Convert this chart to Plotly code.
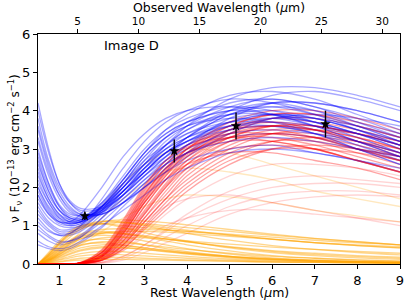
import plotly.graph_objects as go

# ---------------- data ----------------
wavelengths = [0.5, 0.75, 1.0, 1.25, 1.5, 2.0, 2.5, 3.0, 3.5, 4.0, 5.0, 6.0, 7.0, 8.0, 9.0]
redshift_factor = 3.495  # observed / rest

blue_curves = [
    [2.2, 1.6, 1.2, 1.05, 1.1, 1.5, 2.1, 2.6, 3.0, 3.3, 3.7, 3.8, 3.6, 3.3, 2.9],
    [3.0, 2.1, 1.5, 1.2, 1.15, 1.4, 1.9, 2.4, 2.9, 3.2, 3.7, 3.9, 3.8, 3.5, 3.2],
    [1.5, 1.1, 0.9, 0.9, 1.0, 1.5, 2.1, 2.7, 3.1, 3.4, 3.7, 3.7, 3.5, 3.1, 2.7],
    [4.2, 3.0, 2.1, 1.6, 1.35, 1.3, 1.6, 2.1, 2.6, 3.1, 3.8, 4.2, 4.2, 4.0, 3.7],
    [0.8, 0.6, 0.5, 0.55, 0.7, 1.1, 1.6, 2.1, 2.6, 2.9, 3.3, 3.4, 3.3, 3.0, 2.7],
    [2.6, 1.9, 1.4, 1.15, 1.1, 1.35, 1.8, 2.4, 2.9, 3.3, 3.9, 4.1, 4.0, 3.7, 3.4],
    [1.9, 1.4, 1.1, 1.0, 1.05, 1.45, 2.0, 2.6, 3.1, 3.5, 3.9, 4.0, 3.8, 3.5, 3.1],
    [3.5, 2.5, 1.8, 1.4, 1.25, 1.3, 1.6, 2.0, 2.4, 2.8, 3.4, 3.8, 3.9, 3.8, 3.6],
    [1.2, 0.9, 0.75, 0.75, 0.85, 1.3, 1.9, 2.5, 3.0, 3.3, 3.6, 3.6, 3.4, 3.0, 2.6],
    [2.8, 2.0, 1.5, 1.25, 1.2, 1.45, 2.0, 2.6, 3.2, 3.6, 4.1, 4.3, 4.1, 3.8, 3.4],
    [0.5, 0.4, 0.35, 0.4, 0.55, 0.95, 1.5, 2.0, 2.4, 2.7, 3.0, 3.1, 2.9, 2.7, 2.4],
    [2.0, 1.5, 1.2, 1.1, 1.15, 1.6, 2.3, 3.0, 3.5, 3.8, 4.1, 4.0, 3.7, 3.3, 2.9],
    [3.8, 2.7, 2.0, 1.6, 1.4, 1.45, 1.8, 2.3, 2.8, 3.3, 4.0, 4.4, 4.5, 4.3, 4.0],
    [1.7, 1.3, 1.05, 1.0, 1.05, 1.4, 1.9, 2.4, 2.8, 3.1, 3.5, 3.6, 3.5, 3.2, 2.9],
    [2.4, 1.7, 1.3, 1.1, 1.1, 1.4, 2.0, 2.7, 3.3, 3.7, 4.2, 4.3, 4.1, 3.7, 3.3],
    [1.0, 0.75, 0.6, 0.6, 0.7, 1.2, 1.8, 2.4, 2.9, 3.2, 3.5, 3.6, 3.4, 3.1, 2.8],
    [3.2, 2.3, 1.7, 1.35, 1.25, 1.4, 1.8, 2.3, 2.8, 3.2, 3.7, 3.9, 3.8, 3.5, 3.2],
    [2.1, 1.6, 1.25, 1.1, 1.1, 1.5, 2.2, 2.9, 3.4, 3.7, 4.0, 3.9, 3.6, 3.2, 2.8],
    [4.0, 2.9, 2.1, 1.65, 1.45, 1.5, 1.9, 2.5, 3.1, 3.6, 4.3, 4.6, 4.6, 4.4, 4.1],
    [1.4, 1.05, 0.85, 0.85, 0.95, 1.35, 1.9, 2.5, 3.0, 3.4, 3.8, 3.9, 3.7, 3.4, 3.0],
    [2.7, 1.9, 1.4, 1.2, 1.15, 1.5, 2.1, 2.8, 3.3, 3.6, 3.9, 3.9, 3.7, 3.4, 3.0],
    [0.6, 0.45, 0.4, 0.45, 0.6, 1.0, 1.4, 1.8, 2.2, 2.5, 2.9, 3.0, 2.9, 2.7, 2.5],
    [1.8, 1.35, 1.1, 1.05, 1.1, 1.5, 2.0, 2.5, 2.9, 3.2, 3.6, 3.7, 3.6, 3.4, 3.1],
    [2.3, 1.7, 1.3, 1.15, 1.15, 1.45, 1.9, 2.4, 2.9, 3.3, 3.9, 4.2, 4.2, 4.0, 3.7],
    [3.3, 2.4, 1.8, 1.45, 1.3, 1.35, 1.7, 2.2, 2.7, 3.1, 3.6, 3.8, 3.7, 3.4, 3.1],
    [1.3, 1.0, 0.8, 0.8, 0.9, 1.4, 2.1, 2.8, 3.3, 3.6, 3.8, 3.7, 3.4, 3.0, 2.6],
    [2.5, 1.8, 1.4, 1.2, 1.2, 1.6, 2.2, 2.9, 3.5, 3.9, 4.4, 4.5, 4.3, 3.9, 3.5],
    [1.6, 1.2, 1.0, 0.95, 1.0, 1.35, 1.8, 2.3, 2.7, 3.0, 3.4, 3.5, 3.4, 3.2, 2.9],
    [3.6, 2.6, 1.9, 1.5, 1.3, 1.3, 1.6, 2.0, 2.5, 2.9, 3.5, 3.8, 3.8, 3.6, 3.3],
    [2.0, 1.45, 1.15, 1.05, 1.1, 1.55, 2.2, 2.9, 3.4, 3.7, 4.0, 4.1, 3.9, 3.6, 3.2],
    [0.9, 0.7, 0.55, 0.6, 0.75, 1.2, 1.7, 2.2, 2.6, 2.9, 3.2, 3.3, 3.2, 3.0, 2.8],
    [2.9, 2.1, 1.55, 1.3, 1.25, 1.5, 2.0, 2.6, 3.1, 3.5, 4.0, 4.2, 4.0, 3.6, 3.2],
    [1.8, 1.3, 1.1, 1.1, 1.3, 2.0, 2.8, 3.4, 3.8, 4.0, 4.1, 3.9, 3.6, 3.2, 2.8],
    [1.1, 0.85, 0.75, 0.8, 1.0, 1.7, 2.5, 3.2, 3.7, 4.0, 4.3, 4.2, 3.9, 3.5, 3.1],
]

red_curves = [
    [0, 0, 0, 0, 0.02, 0.2, 0.8, 1.6, 2.3, 2.8, 3.3, 3.4, 3.3, 3.0, 2.7],
    [0, 0, 0, 0, 0.01, 0.1, 0.5, 1.2, 1.9, 2.5, 3.2, 3.5, 3.5, 3.3, 3.0],
    [0, 0, 0, 0, 0.03, 0.3, 1.0, 1.9, 2.6, 3.1, 3.6, 3.7, 3.5, 3.2, 2.8],
    [0, 0, 0, 0, 0.01, 0.15, 0.6, 1.3, 2.0, 2.5, 3.0, 3.1, 3.0, 2.7, 2.4],
    [0, 0, 0, 0, 0.02, 0.25, 0.9, 1.7, 2.4, 2.9, 3.5, 3.7, 3.6, 3.4, 3.1],
    [0, 0, 0, 0, 0.02, 0.2, 0.7, 1.4, 2.1, 2.7, 3.4, 3.8, 3.8, 3.6, 3.3],
    [0, 0, 0, 0, 0.04, 0.35, 1.1, 2.0, 2.7, 3.1, 3.4, 3.4, 3.2, 2.9, 2.6],
    [0, 0, 0, 0, 0.01, 0.12, 0.5, 1.1, 1.7, 2.2, 2.9, 3.2, 3.2, 3.0, 2.8],
    [0, 0, 0, 0, 0.02, 0.22, 0.85, 1.7, 2.4, 3.0, 3.6, 3.9, 3.9, 3.7, 3.4],
    [0, 0, 0, 0, 0.01, 0.1, 0.4, 0.9, 1.4, 1.9, 2.6, 3.0, 3.1, 3.0, 2.8],
    [0, 0, 0, 0, 0.03, 0.28, 0.95, 1.8, 2.5, 2.9, 3.3, 3.3, 3.1, 2.8, 2.5],
    [0, 0, 0, 0, 0.02, 0.18, 0.7, 1.5, 2.2, 2.8, 3.5, 3.8, 3.7, 3.5, 3.2],
    [0, 0, 0, 0, 0.01, 0.14, 0.55, 1.2, 1.8, 2.4, 3.1, 3.4, 3.4, 3.2, 2.9],
    [0, 0, 0, 0, 0.02, 0.25, 0.9, 1.75, 2.45, 3.0, 3.7, 4.0, 4.0, 3.8, 3.5],
    [0, 0, 0, 0, 0.01, 0.1, 0.45, 1.0, 1.6, 2.1, 2.8, 3.2, 3.3, 3.2, 3.0],
    [0, 0, 0, 0, 0.03, 0.3, 1.0, 1.85, 2.5, 2.9, 3.2, 3.2, 3.0, 2.7, 2.4],
    [0, 0, 0, 0, 0.02, 0.2, 0.75, 1.5, 2.2, 2.7, 3.3, 3.6, 3.6, 3.4, 3.1],
    [0, 0, 0, 0, 0.01, 0.12, 0.5, 1.1, 1.7, 2.3, 3.0, 3.4, 3.5, 3.4, 3.2],
    [0, 0, 0, 0, 0.02, 0.2, 0.8, 1.6, 2.3, 2.9, 3.6, 3.9, 3.9, 3.6, 3.3],
    [0, 0, 0, 0, 0.02, 0.22, 0.8, 1.6, 2.2, 2.6, 2.9, 2.9, 2.7, 2.5, 2.2],
    [0, 0, 0, 0, 0.01, 0.15, 0.6, 1.3, 2.0, 2.6, 3.3, 3.6, 3.6, 3.4, 3.1],
    [0, 0, 0, 0, 0.03, 0.3, 0.95, 1.8, 2.5, 3.0, 3.5, 3.6, 3.5, 3.2, 2.9],
    [0, 0, 0, 0, 0.01, 0.1, 0.4, 0.95, 1.5, 2.0, 2.7, 3.0, 3.0, 2.9, 2.7],
    [0, 0, 0, 0, 0.03, 0.32, 1.05, 1.95, 2.6, 3.0, 3.4, 3.5, 3.3, 3.0, 2.7],
    [0, 0, 0, 0, 0.02, 0.24, 0.85, 1.65, 2.35, 2.85, 3.4, 3.6, 3.5, 3.3, 3.0],
    [0, 0, 0, 0, 0.02, 0.18, 0.65, 1.35, 2.05, 2.6, 3.2, 3.4, 3.3, 3.1, 2.8],
    [0, 0, 0, 0, 0.04, 0.38, 1.15, 2.05, 2.7, 3.05, 3.3, 3.2, 3.0, 2.7, 2.4],
]

red_faint_curves = [
    [0, 0, 0, 0, 0.01, 0.08, 0.35, 0.8, 1.3, 1.7, 2.3, 2.6, 2.6, 2.5, 2.3],
    [0, 0, 0, 0, 0, 0.03, 0.15, 0.4, 0.7, 1.0, 1.5, 1.8, 1.9, 1.9, 1.8],
    [0, 0, 0, 0, 0, 0.05, 0.2, 0.5, 0.9, 1.3, 1.9, 2.2, 2.3, 2.2, 2.1],
    [0, 0, 0, 0, 0, 0.04, 0.2, 0.5, 0.85, 1.2, 1.7, 2.0, 2.1, 2.1, 2.0],
    [0, 0, 0, 0, 0, 0.02, 0.1, 0.3, 0.55, 0.8, 1.3, 1.6, 1.75, 1.8, 1.75],
    [0, 0, 0, 0, 0.02, 0.2, 0.6, 1.1, 1.5, 1.7, 1.8, 1.6, 1.4, 1.2, 1.0],
    [0, 0, 0, 0, 0.01, 0.1, 0.35, 0.7, 1.0, 1.2, 1.4, 1.4, 1.3, 1.2, 1.1],
]

orange_curves = [
    [0, 0.25, 0.55, 0.8, 0.95, 1.05, 1.0, 0.95, 0.9, 0.85, 0.75, 0.65, 0.55, 0.48, 0.42],
    [0, 0.15, 0.35, 0.55, 0.7, 0.8, 0.78, 0.72, 0.65, 0.58, 0.45, 0.35, 0.28, 0.22, 0.18],
    [0, 0.2, 0.45, 0.7, 0.9, 1.1, 1.15, 1.12, 1.08, 1.02, 0.9, 0.78, 0.67, 0.58, 0.5],
    [0, 0.1, 0.25, 0.4, 0.5, 0.55, 0.5, 0.42, 0.35, 0.28, 0.18, 0.12, 0.08, 0.06, 0.05],
    [0, 0.3, 0.6, 0.85, 1.0, 1.05, 0.95, 0.82, 0.7, 0.6, 0.42, 0.3, 0.22, 0.16, 0.12],
    [0, 0.12, 0.3, 0.5, 0.65, 0.8, 0.85, 0.85, 0.83, 0.8, 0.72, 0.64, 0.56, 0.5, 0.45],
    [0, 0.18, 0.4, 0.6, 0.75, 0.85, 0.8, 0.7, 0.6, 0.5, 0.34, 0.22, 0.15, 0.1, 0.07],
    [0, 0.08, 0.2, 0.32, 0.42, 0.5, 0.48, 0.42, 0.36, 0.3, 0.2, 0.13, 0.09, 0.06, 0.04],
    [0, 0.22, 0.5, 0.75, 0.92, 1.05, 1.08, 1.05, 1.0, 0.95, 0.85, 0.75, 0.66, 0.58, 0.5],
    [0, 0.14, 0.33, 0.52, 0.66, 0.75, 0.7, 0.6, 0.5, 0.4, 0.26, 0.16, 0.1, 0.07, 0.05],
    [0, 0.05, 0.12, 0.2, 0.27, 0.33, 0.32, 0.28, 0.24, 0.2, 0.13, 0.09, 0.06, 0.04, 0.03],
    [0, 0.26, 0.55, 0.8, 0.98, 1.12, 1.1, 1.0, 0.9, 0.8, 0.62, 0.48, 0.38, 0.3, 0.24],
    [0, 0.1, 0.25, 0.42, 0.55, 0.68, 0.7, 0.68, 0.65, 0.6, 0.52, 0.44, 0.38, 0.33, 0.28],
    [0, 0.16, 0.38, 0.58, 0.72, 0.82, 0.8, 0.74, 0.66, 0.58, 0.44, 0.33, 0.25, 0.19, 0.15],
    [0, 0.06, 0.15, 0.25, 0.34, 0.42, 0.42, 0.38, 0.33, 0.28, 0.2, 0.14, 0.1, 0.07, 0.05],
    [0, 0.2, 0.42, 0.62, 0.78, 0.9, 0.92, 0.9, 0.88, 0.85, 0.78, 0.7, 0.62, 0.55, 0.5],
    [0, 0.12, 0.28, 0.45, 0.58, 0.65, 0.6, 0.5, 0.4, 0.32, 0.2, 0.12, 0.08, 0.05, 0.03],
    [0, 0.04, 0.1, 0.16, 0.21, 0.25, 0.24, 0.21, 0.18, 0.15, 0.1, 0.07, 0.05, 0.03, 0.02],
    [0, 0.24, 0.52, 0.78, 0.96, 1.1, 1.08, 1.02, 0.95, 0.88, 0.76, 0.65, 0.56, 0.48, 0.42],
    [0, 0.09, 0.22, 0.36, 0.48, 0.58, 0.56, 0.5, 0.44, 0.38, 0.28, 0.2, 0.15, 0.11, 0.08],
    [0, 0.03, 0.07, 0.11, 0.15, 0.18, 0.17, 0.15, 0.13, 0.11, 0.08, 0.05, 0.04, 0.03, 0.02],
    [0, 0.07, 0.17, 0.28, 0.37, 0.45, 0.43, 0.38, 0.32, 0.26, 0.17, 0.11, 0.07, 0.05, 0.03],
    [0, 0.02, 0.05, 0.08, 0.1, 0.12, 0.12, 0.11, 0.1, 0.09, 0.07, 0.05, 0.04, 0.03, 0.02],
]

orange_faint_curves = [
    [0, 0.12, 0.3, 0.55, 0.85, 1.5, 2.1, 2.6, 2.9, 3.0, 2.9, 2.6, 2.3, 2.0, 1.7],
    [0, 0.1, 0.25, 0.45, 0.7, 1.2, 1.7, 2.1, 2.4, 2.5, 2.4, 2.2, 1.9, 1.7, 1.5],
    [0, 0.08, 0.2, 0.35, 0.5, 0.85, 1.2, 1.5, 1.7, 1.8, 1.75, 1.6, 1.4, 1.25, 1.1],
]

obs_rest_wavelength = [1.6, 3.7, 5.15, 7.25]
obs_flux = [1.25, 2.95, 3.6, 3.65]
obs_flux_err = [0.1, 0.3, 0.35, 0.35]

rest_ticks = [1, 2, 3, 4, 5, 6, 7, 8, 9]
obs_ticks = [5, 10, 15, 20, 25, 30]
y_ticks = [0, 1, 2, 3, 4, 5, 6]

# ---------------- figure ----------------
BLUE = "rgba(0,0,255,0.34)"
RED = "rgba(255,0,0,0.36)"
RED_FAINT = "rgba(255,0,0,0.17)"
ORANGE = "rgba(255,165,0,0.45)"
ORANGE_FAINT = "rgba(255,165,0,0.25)"

fig = go.Figure()

groups = [(orange_faint_curves, ORANGE_FAINT), (red_faint_curves, RED_FAINT),
          (orange_curves, ORANGE), (blue_curves, BLUE), (red_curves, RED)]
n = max(len(g[0]) for g in groups)
for i in range(n):
    for curves, col in groups:
        if i < len(curves):
            fig.add_trace(go.Scatter(
                x=wavelengths, y=curves[i], mode="lines",
                line=dict(color=col, width=1.3, shape="spline", smoothing=1.0),
                hoverinfo="skip", showlegend=False))

fig.add_trace(go.Scatter(
    x=obs_rest_wavelength, y=obs_flux, mode="markers",
    marker=dict(symbol="star", size=8, color="black"),
    error_y=dict(type="data", array=obs_flux_err, color="black", thickness=1.4, width=0),
    showlegend=False))

# invisible trace to activate top axis
fig.add_trace(go.Scatter(x=[wavelengths[0] * redshift_factor], y=[0], xaxis="x2",
                         mode="markers", marker=dict(opacity=0), showlegend=False,
                         hoverinfo="skip"))

font = "DejaVu Sans, sans-serif"
fig.update_layout(
    width=407, height=305,
    margin=dict(l=38, r=7, t=34, b=41, autoexpand=False),
    paper_bgcolor="white", plot_bgcolor="white",
    font=dict(family=font, color="black"),
    xaxis=dict(
        range=[0.5, 9], tickvals=rest_ticks, ticks="outside", ticklen=4, tickwidth=1.2,
        tickcolor="black", showline=True, linecolor="black", linewidth=1, mirror=True,
        showgrid=False, zeroline=False, tickfont=dict(size=13), automargin=False,
    ),
    xaxis2=dict(
        range=[0.5 * redshift_factor, 9 * redshift_factor], tickvals=obs_ticks,
        overlaying="x", side="top", ticks="outside", ticklen=4, tickwidth=1.2,
        tickcolor="black", showgrid=False, zeroline=False, showline=False,
        tickfont=dict(size=10.5), automargin=False,
    ),
    yaxis=dict(
        range=[0, 6], tickvals=y_ticks, ticks="outside", ticklen=4, tickwidth=1.2,
        tickcolor="black", showline=True, linecolor="black", linewidth=1, mirror=True,
        showgrid=False, zeroline=False, tickfont=dict(size=13), automargin=False,
    ),
    annotations=[
        dict(text="Image D", x=2.0, y=5.7, xref="x", yref="y",
             xanchor="left", yanchor="middle", showarrow=False,
             font=dict(size=13, family=font)),
        dict(text="Rest Wavelength (<i>μ</i>m)", x=0.5, y=0, xref="paper", yref="paper",
             xanchor="center", yanchor="middle", yshift=-28, showarrow=False,
             font=dict(size=12.5, family=font)),
        dict(text="Observed Wavelength (<i>μ</i>m)", x=0.5, y=1, xref="paper", yref="paper",
             xanchor="center", yanchor="middle", yshift=27, showarrow=False,
             font=dict(size=12.5, family=font)),
        dict(text="ν F<sub>ν</sub> (10<sup>−13</sup> erg cm<sup>−2</sup> s<sup>−1</sup>)",
             x=0, y=0.5, xref="paper", yref="paper", textangle=-90,
             xanchor="center", yanchor="middle", xshift=-23, showarrow=False,
             font=dict(size=12, family=font)),
    ],
)

# remove the default 8px page margin so the figure fills the window exactly
fig.write_html("out.html", config={"displayModeBar": False},
               post_script="document.body.style.margin='0px';")
